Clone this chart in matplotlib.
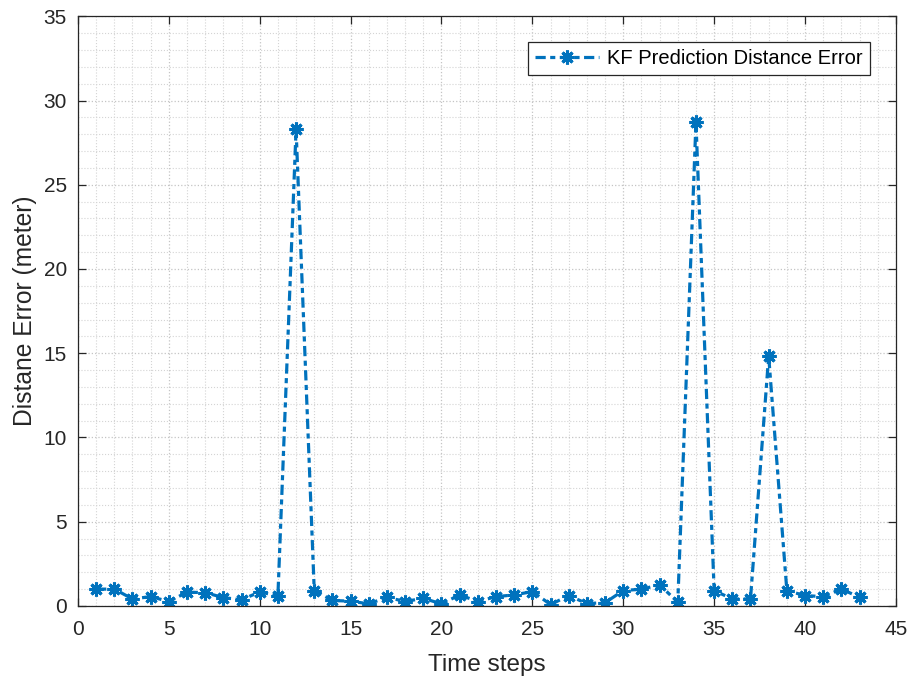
import matplotlib
matplotlib.use("Agg")
import matplotlib.pyplot as plt
from matplotlib.ticker import MultipleLocator

plt.rcParams['font.family'] = ['Liberation Sans', 'DejaVu Sans']

time_steps = list(range(1, 44))
distance_error = [
    0.99, 1.0, 0.41, 0.55, 0.26, 0.81, 0.79, 0.49, 0.36, 0.83,
    0.59, 28.29, 0.91, 0.32, 0.28, 0.12, 0.51, 0.26, 0.45, 0.12,
    0.65, 0.26, 0.55, 0.65, 0.85, 0.08, 0.61, 0.14, 0.19, 0.91,
    0.99, 1.25, 0.22, 28.7, 0.91, 0.41, 0.41, 14.83, 0.91, 0.61,
    0.55, 1.0, 0.51,
]
series_label = "KF Prediction Distance Error"

fig = plt.figure(figsize=(9.17, 6.8), dpi=100)
ax = fig.add_axes([0.085, 0.109, 0.892, 0.867])

ax.plot(time_steps, distance_error, linestyle=(0, (3.2, 1.4, 1.6, 1.4)), color='#0072BD',
        linewidth=2.3, marker=(8, 2, 0), markersize=10, markeredgewidth=2.2,
        markerfacecolor='#0072BD', markeredgecolor='#0072BD', label=series_label)

ax.set_xlim(0, 45)
ax.set_ylim(0, 35)
ax.xaxis.set_major_locator(MultipleLocator(5))
ax.yaxis.set_major_locator(MultipleLocator(5))
ax.xaxis.set_minor_locator(MultipleLocator(1))
ax.yaxis.set_minor_locator(MultipleLocator(1))

ax.grid(which='major', color='#c4c4c4', linestyle=':', linewidth=0.9)
ax.grid(which='minor', color='#d4d4d4', linestyle=':', linewidth=0.8)
ax.set_axisbelow(True)

for s in ax.spines.values():
    s.set_color('#262626')
    s.set_linewidth(0.9)
ax.tick_params(which='major', direction='in', length=6, width=0.9, colors='#262626',
               labelsize=15, top=True, right=True)
ax.tick_params(axis='x', which='major', pad=10)
ax.tick_params(axis='y', which='major', pad=8)
ax.tick_params(which='minor', length=0, top=True, right=True)

ax.set_xlabel('Time steps', fontsize=17.5, color='#262626', labelpad=11)
ax.set_ylabel('Distane Error (meter)', fontsize=17.7, color='#262626', labelpad=5)

leg = ax.legend(loc='upper right', fontsize=14.5, fancybox=False, framealpha=1,
                edgecolor='#262626', handlelength=3.2, handletextpad=0.4,
                borderpad=0.35, borderaxespad=0,
                bbox_to_anchor=(0.968, 0.956))
leg.get_frame().set_linewidth(0.9)

fig.savefig('out.png', dpi=100)
